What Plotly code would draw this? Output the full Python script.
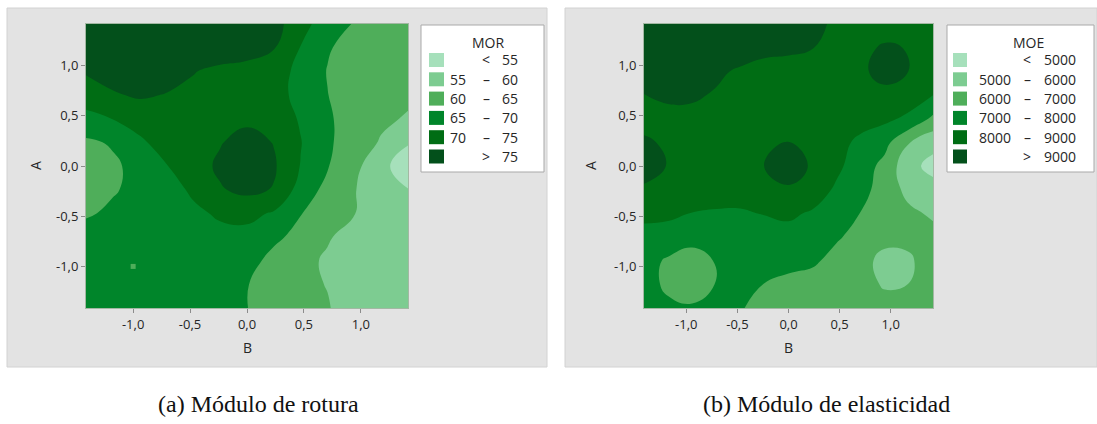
import plotly.graph_objects as go

W, H = 1097, 424

# Coded factor levels of the response grid (B across, A from top to bottom)
b_levels = [-1.414, -1.179, -0.943, -0.707, -0.471, -0.236, 0.0,
            0.236, 0.471, 0.707, 0.943, 1.179, 1.414]
a_levels = [1.414, 1.179, 0.943, 0.707, 0.471, 0.236, 0.0,
            -0.236, -0.471, -0.707, -0.943, -1.179, -1.414]

# Modulus of rupture (MOR) on the grid, one row per A level
mor_values = [
    [79, 79.5, 80, 80, 79.5, 79, 77, 76.5, 72.5, 66.5, 64.8, 62.5, 62],
    [79, 79.5, 80, 79.5, 79, 79, 77.5, 75.3, 69.8, 65.5, 63, 62, 62],
    [75.5, 77, 77.5, 77, 75.3, 73.5, 73, 72, 68.8, 64.8, 63, 62.5, 62],
    [72.5, 74.5, 75.6, 74.8, 73.5, 73, 72.5, 71.5, 68.8, 65.1, 62.5, 62, 61],
    [68.5, 70.1, 72, 73, 73.5, 74, 74, 73, 69.5, 65.6, 63, 61, 59.5],
    [64.2, 65.5, 69.2, 72, 73, 74.7, 76.8, 74.8, 70.2, 65.6, 63, 59.5, 55.3],
    [62.5, 64.2, 66.5, 69.8, 73, 75.8, 77, 75.6, 69.8, 65.3, 61.5, 56, 53],
    [62.8, 64.5, 66.5, 68.5, 70.6, 74.6, 76.2, 74.7, 68, 63.5, 60.2, 57.5, 55.1],
    [64.3, 66, 67.5, 68.5, 69.3, 70.5, 71.3, 69.5, 65.2, 62.3, 60.1, 58.5, 58],
    [67.5, 67.3, 67.5, 68, 68.5, 69, 68.5, 66, 63.5, 60.5, 58, 57.5, 58],
    [68, 68, 68, 68.3, 68.5, 67.5, 66.8, 63.5, 61.5, 59.3, 57.5, 57.5, 58],
    [68, 68, 68, 68, 67.8, 67, 65.2, 62.5, 61, 59.85, 57.5, 57.3, 57.8],
    [68, 68, 68, 68, 68, 66.8, 65.1, 62.5, 61, 60.3, 57.8, 57, 57.5],
]

# Modulus of elasticity (MOE) on the same grid
moe_values = [
    [9600, 9600, 9600, 9600, 9600, 9600, 9500, 9300, 8800, 8600, 8600, 8500, 8400],
    [9600, 9600, 9600, 9600, 9600, 9200, 9150, 9020, 8750, 8800, 9100, 8960, 8500],
    [9500, 9500, 9400, 9200, 8850, 8750, 8700, 8650, 8650, 8800, 9400, 8990, 8700],
    [8980, 9150, 9150, 8900, 8600, 8550, 8550, 8500, 8450, 8450, 8700, 8500, 8010],
    [8650, 8755, 8710, 8600, 8500, 8600, 8750, 8550, 8400, 8350, 8200, 7800, 6800],
    [9150, 8850, 8650, 8550, 8650, 8850, 9020, 8700, 8300, 7800, 7300, 6050, 5300],
    [9300, 8970, 8650, 8500, 8600, 9020, 9400, 8900, 8200, 7500, 6700, 5300, 4700],
    [8900, 8700, 8550, 8450, 8400, 8500, 8900, 8500, 7850, 7300, 6600, 5700, 5350],
    [8150, 8120, 7980, 7900, 7900, 8050, 8150, 7900, 7400, 6980, 6500, 6200, 5850],
    [7800, 7750, 7400, 7500, 7450, 7430, 7700, 7600, 7100, 6700, 6300, 6350, 6300],
    [7430, 6850, 6500, 7080, 7400, 7400, 7300, 7150, 6700, 6330, 5700, 5800, 6700],
    [7410, 6800, 6500, 7040, 7300, 6980, 6740, 6620, 6500, 6520, 5850, 6010, 6400],
    [7400, 7210, 7120, 7200, 7150, 6300, 6400, 6400, 6400, 6500, 6540, 6500, 6450],
]

# Isolated grid cell of the MOR surface falling in the 60-65 band
mor_spot_b = [-1.0]
mor_spot_a = [-1.0]
mor_spot_value = [62.5]

mor_breaks = [55, 60, 65, 70, 75]
moe_breaks = [5000, 6000, 7000, 8000, 9000]

tick_vals = [-1.0, -0.5, 0.0, 0.5, 1.0]
tick_text = ["-1,0", "-0,5", "0,0", "0,5", "1,0"]

captions = ["(a) Módulo de rotura", "(b) Módulo de elasticidad"]
legend_titles = ["MOR", "MOE"]

# ---- styling -------------------------------------------------------------
GREENS = ["#a6e0bb", "#7dcc91", "#4fae5a", "#00852a", "#006d14", "#03501b"]
PANEL_BG = "#e3e3e3"
PANEL_LINE = "#d2d2d2"
SANS = "Open Sans, Noto Sans, sans-serif"
SERIF = "Liberation Serif, DejaVu Serif, serif"
TEXT = "#262626"


def px_x(v):
    return v / W


def px_y(v):
    return 1 - v / H


def band_scale(colors):
    n = len(colors)
    scale = []
    for i, c in enumerate(colors):
        lo = max(0.0, (i - 0.5) / (n - 1))
        hi = min(1.0, (i + 0.5) / (n - 1))
        scale += [[lo, c], [hi, c]]
    return scale


def legend_rows(breaks):
    lo, mid, hi = [""], ["<"], [str(breaks[0])]
    for a, b in zip(breaks[:-1], breaks[1:]):
        lo.append(str(a))
        mid.append("–")
        hi.append(str(b))
    lo.append("")
    mid.append(">")
    hi.append(str(breaks[-1]))
    return lo, mid, hi


a_asc = a_levels[::-1]

fig = go.Figure()

panels = [
    dict(z=mor_values, breaks=mor_breaks, xa="x", ya="y",
         plot=(86, 408), panel=(7, 547), legend=(421, 544),
         swatch=(429, 444), lo_r=468, mid_c=486, hi_r=520, title_c=488,
         ytitle_x=35, caption_c=258),
    dict(z=moe_values, breaks=moe_breaks, xa="x2", ya="y2",
         plot=(644, 933), panel=(565, 1097), legend=(947, 1094),
         swatch=(953, 967), lo_r=1013, mid_c=1027, hi_r=1078, title_c=1028,
         ytitle_x=590, caption_c=826),
]

PLOT_TOP, PLOT_BOTTOM = 24, 308
PANEL_TOP, PANEL_BOTTOM = 8, 367
LEG_TOP, LEG_BOTTOM = 25, 172
ROW0, ROW_STEP = 60, 19.3

shapes = []
annotations = []

for k, p in enumerate(panels):
    z_asc = p["z"][::-1]
    step = p["breaks"][1] - p["breaks"][0]
    fig.add_trace(go.Contour(
        x=b_levels, y=a_asc, z=z_asc,
        contours=dict(start=p["breaks"][0], end=p["breaks"][-1], size=step,
                      coloring="fill", showlines=False),
        line=dict(width=0, smoothing=1.3),
        colorscale=band_scale(GREENS), showscale=False,
        hoverinfo="skip", xaxis=p["xa"], yaxis=p["ya"],
    ))

    # gray panel behind each chart
    shapes.append(dict(type="rect", xref="paper", yref="paper", layer="below",
                       x0=px_x(p["panel"][0]), x1=px_x(p["panel"][1]),
                       y0=px_y(PANEL_BOTTOM), y1=px_y(PANEL_TOP),
                       fillcolor=PANEL_BG, line=dict(color=PANEL_LINE, width=1)))

    # legend box
    shapes.append(dict(type="rect", xref="paper", yref="paper",
                       x0=px_x(p["legend"][0]), x1=px_x(p["legend"][1]),
                       y0=px_y(LEG_BOTTOM), y1=px_y(LEG_TOP),
                       fillcolor="white", line=dict(color="#a9a9a9", width=1)))
    annotations.append(dict(text=legend_titles[k], xref="paper", yref="paper",
                            x=px_x(p["title_c"]), y=px_y(43), showarrow=False,
                            xanchor="center", yanchor="middle",
                            font=dict(family=SANS, size=14, color=TEXT)))
    lo, mid, hi = legend_rows(p["breaks"])
    for i in range(len(GREENS)):
        yc = ROW0 + i * ROW_STEP
        shapes.append(dict(type="rect", xref="paper", yref="paper",
                           x0=px_x(p["swatch"][0]), x1=px_x(p["swatch"][1]),
                           y0=px_y(yc + 7), y1=px_y(yc - 7),
                           fillcolor=GREENS[i], line=dict(width=0)))
        for txt, xpos, anchor in ((lo[i], p["lo_r"], "right"),
                                  (mid[i], p["mid_c"], "center"),
                                  (hi[i], p["hi_r"], "right")):
            if txt:
                annotations.append(dict(text=txt, xref="paper", yref="paper",
                                        x=px_x(xpos), y=px_y(yc), showarrow=False,
                                        xanchor=anchor, yanchor="middle",
                                        font=dict(family=SANS, size=14, color=TEXT)))

    # axis titles
    xc = (p["plot"][0] + p["plot"][1]) / 2
    annotations.append(dict(text="B", xref="paper", yref="paper",
                            x=px_x(xc), y=px_y(347), showarrow=False,
                            xanchor="center", yanchor="middle",
                            font=dict(family=SANS, size=14, color=TEXT)))
    annotations.append(dict(text="A", xref="paper", yref="paper",
                            x=px_x(p["ytitle_x"]), y=px_y((PLOT_TOP + PLOT_BOTTOM) / 2),
                            showarrow=False, textangle=-90,
                            xanchor="center", yanchor="middle",
                            font=dict(family=SANS, size=14, color=TEXT)))
    # caption under the panel
    annotations.append(dict(text=captions[k], xref="paper", yref="paper",
                            x=px_x(p["caption_c"]), y=px_y(404), showarrow=False,
                            xanchor="center", yanchor="middle",
                            font=dict(family=SERIF, size=24, color="#111111")))

fig.add_trace(go.Scatter(
    x=mor_spot_b, y=mor_spot_a, mode="markers",
    marker=dict(symbol="square", size=5, color=GREENS[2], line=dict(width=0)),
    hoverinfo="skip", showlegend=False, xaxis="x", yaxis="y",
))

axis_common = dict(
    range=[-1.414, 1.414], tickvals=tick_vals, ticktext=tick_text,
    ticks="outside", ticklen=4, tickwidth=1, tickcolor="#8c8c8c",
    showgrid=False, zeroline=False, showline=True, mirror=True,
    linecolor="#a3b8a3", linewidth=1,
    tickfont=dict(family=SANS, size=13, color=TEXT),
)

ydom = [px_y(PLOT_BOTTOM), px_y(PLOT_TOP)]
fig.update_layout(
    width=W, height=H,
    margin=dict(l=0, r=0, t=0, b=0),
    paper_bgcolor="white", plot_bgcolor="rgba(0,0,0,0)",
    showlegend=False,
    xaxis=dict(domain=[px_x(86), px_x(408)], anchor="y", **axis_common),
    yaxis=dict(domain=ydom, anchor="x", **axis_common),
    xaxis2=dict(domain=[px_x(644), px_x(933)], anchor="y2", **axis_common),
    yaxis2=dict(domain=ydom, anchor="x2", **axis_common),
    shapes=shapes,
    annotations=annotations,
)

fig.write_html("out.html")
